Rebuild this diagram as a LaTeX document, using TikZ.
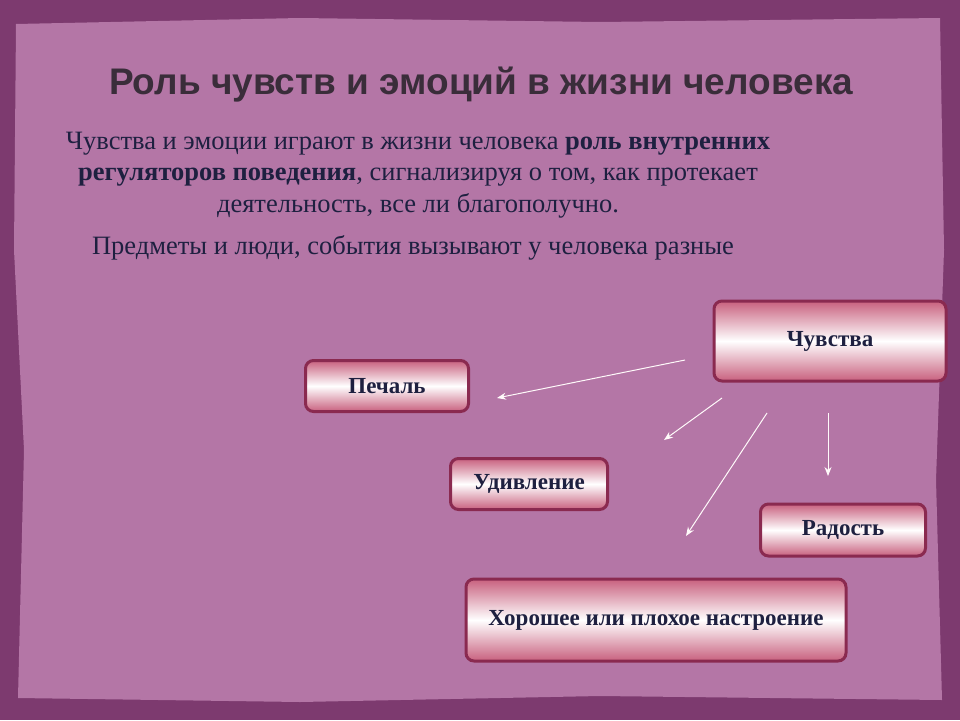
\documentclass[tikz,border=0pt]{standalone}
\usepackage{fontspec}
\setmainfont{Liberation Serif}
\newfontfamily\titlefont{Liberation Sans}
\definecolor{outerbg}{HTML}{7D3A6F}
\definecolor{innerbg}{HTML}{B476A6}
\definecolor{boxedge}{HTML}{8A2A50}
\definecolor{boxpink}{HTML}{C8607E}
\definecolor{txt}{HTML}{1E2040}
\definecolor{ttl}{HTML}{3A2D3A}
\tikzset{
  emobox/.style={draw=boxedge, line width=3pt, rounded corners=8pt,
    top color=boxpink, bottom color=boxpink, middle color=white,
    font=\bfseries\fontsize{23}{26}\selectfont, text=txt},
  arr/.style={draw=white!92!pink, line width=1pt, -{Stealth[length=9pt,width=7pt]}}
}
\usetikzlibrary{arrows.meta}
\begin{document}
\begin{tikzpicture}[x=1pt,y=-1pt]
\useasboundingbox (0,0) rectangle (960,720);
\fill[outerbg] (0,0) rectangle (960,720);
\fill[innerbg] (16,24) -- (300,18) -- (600,22) -- (940,18) -- (944,250) -- (936,480) -- (942,700) -- (600,696) -- (300,702) -- (18,698) -- (24,450) -- (14,250) -- cycle;
\node[font=\titlefont\bfseries\fontsize{37}{40}\selectfont, text=ttl] (title) at (481,85) {Роль чувств и эмоций в жизни человека};
\node[font=\fontsize{26.5}{31.5}\selectfont, text=txt, align=center] (p1) at (418,175) {Чувства и эмоции играют в жизни человека \textbf{роль внутренних}\\ \textbf{регуляторов поведения}, сигнализируя о том, как протекает\\ деятельность, все ли благополучно.};
\node[font=\fontsize{26.5}{30}\selectfont, text=txt] (p2) at (413,248) {Предметы и люди, события вызывают у человека разные};
\node[emobox, minimum width=232pt, minimum height=80pt] (ch) at (830,341) {Чувства};
\node[emobox, minimum width=163pt, minimum height=51pt] (pe) at (387,386) {Печаль};
\node[emobox, minimum width=157pt, minimum height=51pt] (ud) at (529,484) {Удивление};
\node[emobox, minimum width=165pt, minimum height=52pt] (ra) at (843,530) {Радость};
\node[emobox, minimum width=380pt, minimum height=82pt] (xo) at (656,620) {Хорошее или плохое настроение};
\coordinate (a1s) at (685,360); \coordinate (a1e) at (497,398);
\coordinate (a2s) at (722,398); \coordinate (a2e) at (664,440);
\coordinate (a3s) at (767,413); \coordinate (a3e) at (686,536);
\coordinate (a4s) at (828,413); \coordinate (a4e) at (828,476);
\draw[arr] (a1s) -- (a1e);
\draw[arr] (a2s) -- (a2e);
\draw[arr] (a3s) -- (a3e);
\draw[arr] (a4s) -- (a4e);
\end{tikzpicture}
\end{document}
